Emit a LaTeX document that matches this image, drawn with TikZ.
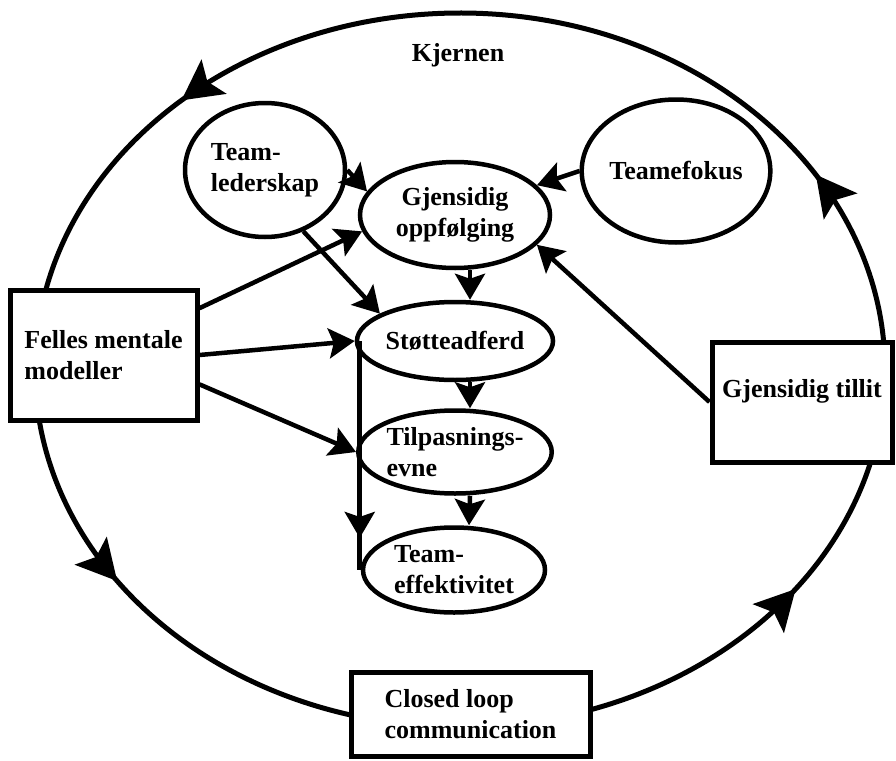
\documentclass[tikz,border=0pt]{standalone}
\usepackage{fontspec}
\setmainfont{Liberation Serif}
\usetikzlibrary{positioning}
\usetikzlibrary{calc}
\usetikzlibrary{shapes.geometric}
\usetikzlibrary{arrows.meta}
\usetikzlibrary{decorations.markings}
\begin{document}
\begin{tikzpicture}[x=1pt,y=-1pt,
  every node/.style={font=\fontsize{26}{31}\selectfont\bfseries},
  core/.style={ellipse,draw,line width=4.5pt,fill=white,inner sep=0pt,align=left},
  mech/.style={rectangle,draw,line width=5pt,fill=white,inner sep=0pt,align=left},
  flow/.style={line width=4.5pt,-{Stealth[length=26pt,width=30pt,inset=5pt]}},
  ringline/.style={line width=5pt},
  ringtip/.style={postaction={decorate,decoration={markings,
    mark=at position #1 with {\arrow{Stealth[length=40pt,width=42pt,inset=8pt]}}}}},
  droptip/.style={postaction={decorate,decoration={markings,
    mark=at position #1 with {\arrow{Stealth[length=26pt,width=30pt,inset=5pt]}}}}}]
\fill[white] (0,0) rectangle (896,760);
\useasboundingbox (0,0) rectangle (896,760);

\coordinate (ring) at (460,370);
\draw[ringline,ringtip=0.6] (ring) ++(76:425 and 357) arc[start angle=76,end angle=10,x radius=425,y radius=357];
\draw[ringline,ringtip=0.17,ringtip=0.77] (ring) ++(-2:425 and 357) arc[start angle=-2,end angle=-172,x radius=425,y radius=357];
\draw[ringline,ringtip=0.4] (ring) ++(176:425 and 357) arc[start angle=176,end angle=100,x radius=425,y radius=357];

\node (kjernen) at (458,55) {Kjernen};
\node[core,minimum width=160pt,minimum height=134pt] (lederskap) at (265,170) {Team-\\lederskap};
\node[core,align=center,minimum width=190pt,minimum height=106pt] (oppf) at (455,215) {Gjensidig\\oppfølging};
\node[core,minimum width=182pt,minimum height=143pt] (fokus) at (676,171) {Teamefokus};
\node[core,minimum width=185pt,minimum height=78pt] (stotte) at (455,341) {Støtteadferd};
\node[core,minimum width=185pt,minimum height=83pt] (tilp) at (455,452) {Tilpasnings-\\evne};
\node[core,minimum width=182pt,minimum height=85pt] (effekt) at (454,570) {Team-\\effektivitet};

\node[mech,minimum width=187pt,minimum height=130pt] (felles) at (103.5,355) {Felles mentale\\modeller};
\node[mech,minimum width=180pt,minimum height=120pt,text height=20pt,text depth=30pt] (tillit) at (802,402) {Gjensidig tillit};
\node[mech,minimum width=239pt,minimum height=84pt] (closed) at (470.5,714) {Closed loop\\communication};

\draw[flow] (lederskap.east) -- (oppf.165);
\draw[flow] (fokus.west) -- (oppf.20);
\draw[flow] (lederskap.-58) -- (stotte.160);
\draw[flow] (felles.26) -- (oppf.190);
\draw[flow] (felles.east) -- (stotte.west);
\draw[flow] (felles.-17) -- (tilp.west);
\draw[flow] (tillit.west) -- (oppf.-20);
\draw[flow] ([xshift=15pt]oppf.south) -- ([xshift=15pt]stotte.north);
\draw[flow] ([xshift=15pt]stotte.south) -- ([xshift=15pt]tilp.north);
\draw[flow] ([xshift=15pt]tilp.south) -- ([xshift=15pt]effekt.north);
\draw[line width=4.5pt,droptip=0.86] ([xshift=5pt]stotte.west) -- ([xshift=5pt]stotte.west |- effekt.west);
\end{tikzpicture}
\end{document}
